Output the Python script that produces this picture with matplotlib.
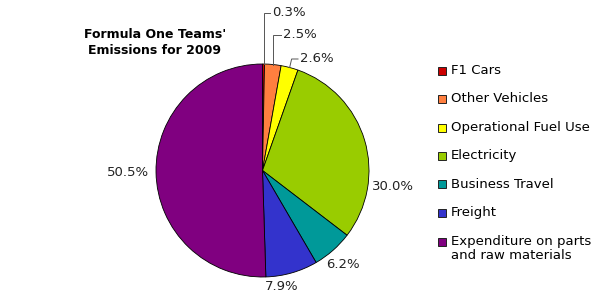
import matplotlib
matplotlib.use("Agg")
import matplotlib.pyplot as plt
from matplotlib.patches import Rectangle
import numpy as np

categories = ["F1 Cars", "Other Vehicles", "Operational Fuel Use", "Electricity",
              "Business Travel", "Freight", "Expenditure on parts\nand raw materials"]
values = [0.3, 2.5, 2.6, 30.0, 6.2, 7.9, 50.5]
colors = ["#CC0000", "#FF7F3F", "#FFFF00", "#99CC00", "#009999", "#3333CC", "#800080"]
title = "Formula One Teams'\nEmissions for 2009"

W, H = 600, 296
fig = plt.figure(figsize=(W / 100, H / 100), dpi=100)
ax = fig.add_axes([0, 0, 1, 1])

cx, cy, r = 262.5, 170.5, 106.5
wedges, _ = ax.pie(values, colors=colors, startangle=-90, counterclock=True,
                   center=(cx, cy), radius=r, frame=True,
                   wedgeprops=dict(edgecolor="black", linewidth=0.6))
ax.set_xlim(0, W)
ax.set_ylim(H, 0)
ax.set_aspect("equal")
ax.axis("off")

fs = 9.5
small_label_y = [13, 35, 59]
small_label_x = [272, 283, 300]
big_label_pos = {3: (393, 186), 4: (343, 264), 5: (282, 287), 6: (128, 172)}

for i, w in enumerate(wedges):
    txt = f"{values[i]:.1f}%"
    mid = np.deg2rad((w.theta1 + w.theta2) / 2)
    ex, ey = cx + r * np.cos(mid), cy + r * np.sin(mid)
    if i < 3:
        ty = small_label_y[i]
        tx = small_label_x[i]
        ax.plot([ex, ex + (i == 2) * 2, tx - 2], [ey, ty, ty], color="#555555", lw=0.7,
                solid_joinstyle="miter")
        ax.text(tx, ty, txt, fontsize=fs, ha="left", va="center", color="#222222")
    else:
        x, y = big_label_pos[i]
        ax.text(x, y, txt, fontsize=fs, ha="center", va="center", color="#222222")

ax.text(155, 42, title, fontsize=9, fontweight="bold", ha="center", va="center",
        linespacing=1.3)

leg_y = [70.5, 99, 127.5, 156, 184, 212.5, 241.5]
for i, (c, lab) in enumerate(zip(colors, categories)):
    ax.add_patch(Rectangle((438, leg_y[i] - 4), 8, 8, facecolor=c, edgecolor="#222222", lw=0.7))
    if "\n" in lab:
        ax.text(451, leg_y[i] - 7, lab, fontsize=fs, ha="left", va="top", linespacing=1.15)
    else:
        ax.text(451, leg_y[i], lab, fontsize=fs, ha="left", va="center")

fig.savefig("out.png", dpi=100)
